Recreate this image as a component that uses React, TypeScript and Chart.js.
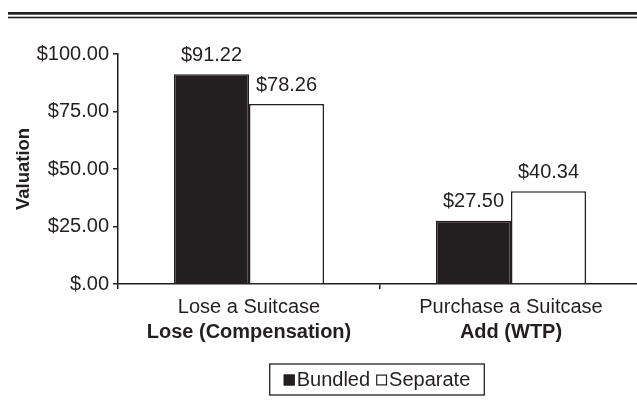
import React, { useEffect, useRef } from "react";
import { Chart, registerables } from "chart.js";

Chart.register(...registerables);

const categoryLine1 = ["Lose a Suitcase", "Purchase a Suitcase"];
const categoryLine2 = ["Lose (Compensation)", "Add (WTP)"];
const bundledValues = [91.22, 27.5];
const separateValues = [78.26, 40.34];
const seriesNames = ["Bundled", "Separate"];
const yTicks = [0, 25, 50, 75, 100];

const INK = "#231f20";
const FAMILY = '"Liberation Sans", Arial, Helvetica, sans-serif';
const FONT_SIZE = 20;

const money = (v: number) => (v === 0 ? "$.00" : "$" + v.toFixed(2));

const decorPlugin = {
  id: "decor",
  beforeDraw(chart: any) {
    const ctx = chart.ctx;
    ctx.save();
    ctx.fillStyle = "#ffffff";
    ctx.fillRect(0, 0, chart.width, chart.height);
    ctx.fillStyle = INK;
    ctx.fillRect(8, 12, chart.width, 2.7);
    ctx.fillRect(8, 16.7, chart.width, 1.6);
    ctx.restore();
  },
  afterDatasetsDraw(chart: any) {
    const ctx = chart.ctx;
    ctx.save();
    ctx.font = `${FONT_SIZE}px ${FAMILY}`;
    ctx.fillStyle = INK;
    ctx.textAlign = "center";
    ctx.textBaseline = "middle";
    chart.data.datasets.forEach((ds: any, di: number) => {
      const meta = chart.getDatasetMeta(di);
      meta.data.forEach((bar: any, i: number) => {
        ctx.fillText(money(ds.data[i]), bar.x, bar.y - 19);
      });
    });
    ctx.restore();
  },
  afterDraw(chart: any) {
    const ctx = chart.ctx;
    const x2 = chart.scales.x2;
    ctx.save();
    ctx.font = `${FONT_SIZE}px ${FAMILY}`;
    const sq = 11;
    const gapText = 2;
    const gapItem = 6;
    const padX = 14;
    const boxH = 31;
    const items = chart.data.datasets.map((ds: any) => ({
      label: ds.label,
      fill: ds.backgroundColor,
      stroke: ds.borderColor,
      w: ctx.measureText(ds.label).width,
    }));
    let inner = 0;
    items.forEach((it: any, i: number) => {
      inner += sq + gapText + it.w + (i > 0 ? gapItem : 0);
    });
    const boxW = inner + padX * 2;
    const cx = (chart.chartArea.left + chart.chartArea.right) / 2 - 3;
    const left = cx - boxW / 2;
    const top = x2.bottom + 22;
    ctx.strokeStyle = INK;
    ctx.lineWidth = 1.3;
    ctx.strokeRect(left, top, boxW, boxH);
    let x = left + padX;
    const midY = top + boxH / 2 + 0.5;
    ctx.textBaseline = "middle";
    ctx.textAlign = "left";
    items.forEach((it: any, i: number) => {
      if (i > 0) x += gapItem;
      ctx.fillStyle = it.fill;
      ctx.fillRect(x, midY - sq / 2, sq, sq);
      ctx.lineWidth = 1.2;
      ctx.strokeStyle = it.stroke;
      ctx.strokeRect(x + 0.6, midY - sq / 2 + 0.6, sq - 1.2, sq - 1.2);
      x += sq + gapText;
      ctx.fillStyle = INK;
      ctx.fillText(it.label, x, midY);
      x += it.w;
    });
    ctx.restore();
  },
};

export default function App() {
  const ref = useRef<HTMLCanvasElement | null>(null);

  useEffect(() => {
    const canvas = ref.current;
    if (!canvas) return;
    const chart = new Chart(canvas, {
      type: "bar",
      data: {
        labels: categoryLine1,
        datasets: [
          {
            label: seriesNames[0],
            data: bundledValues,
            backgroundColor: INK,
            borderColor: INK,
            borderWidth: 1.5,
          },
          {
            label: seriesNames[1],
            data: separateValues,
            backgroundColor: "#ffffff",
            borderColor: INK,
            borderWidth: 1.5,
          },
        ],
      },
      options: {
        responsive: false,
        animation: false,
        events: [],
        datasets: {
          bar: {
            categoryPercentage: 0.5725,
            barPercentage: 1,
          },
        },
        layout: { padding: { top: 54, left: 8, right: 0, bottom: 74 } },
        plugins: {
          legend: { display: false },
          tooltip: { enabled: false },
          title: { display: false },
        },
        scales: {
          x: {
            type: "category",
            position: "bottom",
            offset: true,
            grid: {
              display: true,
              offset: true,
              drawOnChartArea: false,
              drawTicks: true,
              tickLength: 5,
              color: INK,
              lineWidth: 1.5,
            },
            border: { display: true, color: INK, width: 1.5 },
            ticks: {
              color: INK,
              padding: 6,
              maxRotation: 0,
              autoSkip: false,
              font: { family: FAMILY, size: FONT_SIZE },
            },
            afterFit: (s: any) => {
              s.height = 34;
            },
          },
          x2: {
            type: "category",
            position: "bottom",
            labels: categoryLine2,
            offset: true,
            grid: { display: false, drawTicks: false },
            border: { display: false },
            ticks: {
              color: INK,
              padding: 2,
              maxRotation: 0,
              autoSkip: false,
              font: { family: FAMILY, size: FONT_SIZE, weight: "bold" },
            },
            afterFit: (s: any) => {
              s.height = 24;
            },
          },
          y: {
            min: 0,
            max: 100,
            afterBuildTicks: (s: any) => {
              s.ticks = yTicks.map((v) => ({ value: v }));
            },
            grid: {
              display: true,
              drawOnChartArea: false,
              drawTicks: true,
              tickLength: 5,
              color: INK,
              lineWidth: 1.5,
            },
            border: { display: true, color: INK, width: 1.5 },
            ticks: {
              color: INK,
              padding: 4,
              font: { family: FAMILY, size: FONT_SIZE },
              callback: (v: any) => money(Number(v)),
            },
            title: {
              display: true,
              text: "Valuation",
              color: INK,
              padding: { top: 5, bottom: 0 },
              font: { family: FAMILY, size: 18.5, weight: "bold" },
            },
            afterFit: (s: any) => {
              s.width = 110;
            },
          },
        },
      },
      plugins: [decorPlugin],
    });
    return () => chart.destroy();
  }, []);

  return (
    <div
      style={{
        position: "absolute",
        left: 0,
        top: 0,
        width: 637,
        height: 416,
        overflow: "hidden",
        background: "#fff",
      }}
    >
      <canvas ref={ref} width={642} height={416} style={{ display: "block" }} />
    </div>
  );
}
